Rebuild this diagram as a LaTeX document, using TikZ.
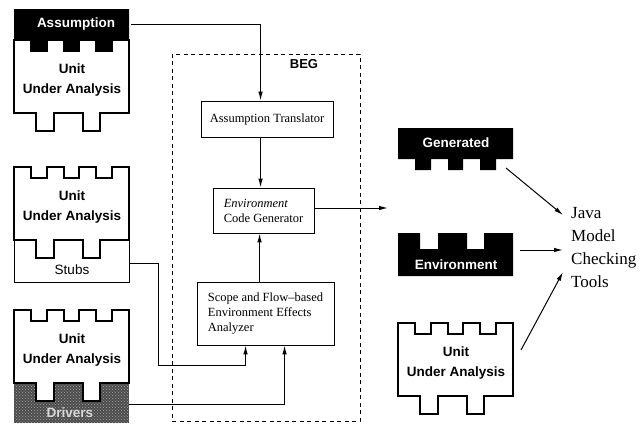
\documentclass[tikz,border=0pt]{standalone}
\usepackage{fontspec}
\setmainfont{Liberation Serif}
\setsansfont{Liberation Sans}
\usetikzlibrary{arrows.meta,patterns}
\tikzset{
  piece/.style={draw=black, fill=white, line width=1.1pt, line join=miter},
  lbl/.style={font=\sffamily\bfseries\fontsize{13.5}{19.5}\selectfont, align=center, inner sep=0pt},
  wlbl/.style={lbl, text=white},
  boxtxt/.style={draw=black, line width=0.9pt, fill=white, font=\fontsize{12.5}{15}\selectfont},
  arr/.style={line width=1pt, -{Latex[length=9pt,width=4.5pt]}},
  uua/.pic={\path[piece] (0,0) -- (17,0) -- (17,11) -- (33,11) -- (33,0) -- (50,0) -- (50,11) -- (65,11) -- (65,0) -- (82,0) -- (82,11) -- (98,11) -- (98,0) -- (115,0) -- (115,73) -- (86,73) -- (86,91) -- (69,91) -- (69,73) -- (40,73) -- (40,91) -- (22,91) -- (22,73) -- (0,73) -- cycle;},
  topblk/.pic={\fill[black] (0,0) -- (115,0) -- (115,31) -- (98,31) -- (98,42) -- (82,42) -- (82,31) -- (65,31) -- (65,42) -- (50,42) -- (50,31) -- (33,31) -- (33,42) -- (17,42) -- (17,31) -- (0,31) -- cycle;},
  botblk/.pic={\fill[black] (0,0) -- (22,0) -- (22,16) -- (40,16) -- (40,0) -- (69,0) -- (69,16) -- (86,16) -- (86,0) -- (115,0) -- (115,43) -- (0,43) -- cycle;}
}
\begin{document}
\begin{tikzpicture}[x=1pt,y=-1pt]
\useasboundingbox (0,0) rectangle (642,424);
\fill[white] (0,0) rectangle (642,424);

% Block A: Assumption + UUA
\pic at (14,40) {uua};
\pic at (14,9) {topblk};
\node[wlbl] (asm) at (76,24) {Assumption};
\node[lbl] (uuaA) at (72,80) {Unit\\Under Analysis};

% Block B: UUA + Stubs
\draw[line width=1pt, fill=white] (14,240) rectangle (129,282);
\pic at (14,167) {uua};
\node[lbl] (uuaB) at (72,207) {Unit\\Under Analysis};
\node[lbl, font=\sffamily\fontsize{13.5}{16}\selectfont] (stubs) at (72,270) {Stubs};

% Block C: UUA + Drivers
\fill[black!70] (14,382) rectangle (129,423);
\fill[pattern=crosshatch dots, pattern color=black!35] (14,382) rectangle (129,423);
\pic at (14,310) {uua};
\node[lbl] (uuaC) at (72,350) {Unit\\Under Analysis};
\node[wlbl, text=white!85!black] (drivers) at (70,413) {Drivers};

% Right column
\pic at (398,128) {topblk};
\node[wlbl] (gen) at (456,143) {Generated};
\pic at (398,233) {botblk};
\node[wlbl] (env) at (456,265) {Environment};
\pic at (398,323) {uua};
\node[lbl] (uuaD) at (456,363) {Unit\\Under Analysis};

% BEG
\node[draw, dash pattern=on 4pt off 3.5pt, line width=1pt, minimum width=188, minimum height=367, inner sep=0pt] (beg) at (266,237.5) {};
\node[lbl, font=\sffamily\bfseries\fontsize{13}{15}\selectfont] (begl) at (304,64) {BEG};

\node[boxtxt, minimum width=132, minimum height=36] (at) at (267,119) {Assumption Translator};
\node[boxtxt, minimum width=101, minimum height=45, align=left] (ecg) at (263.5,210.5) {\textit{Environment}\\Code Generator};
\node[boxtxt, minimum width=137, minimum height=63, align=left] (scope) at (265.5,313.5) {Scope and Flow–based\\Environment Effects\\Analyzer};

\node[font=\fontsize{17}{23}\selectfont, align=left, anchor=west, inner sep=0pt] (java) at (571,248) {Java\\Model\\Checking\\Tools};

% coordinates
\coordinate (asmR) at (131,24);
\coordinate (ecgout) at (388,208);
\coordinate (stubsR) at (129,263);
\coordinate (stubsJ) at (158,365);
\coordinate (drvR) at (129,404);
\coordinate (genR) at (506,168);
\coordinate (envR) at (520,250);
\coordinate (uuaR) at (521,350);
\coordinate (j1) at (563,215);
\coordinate (j2) at (563,250);
\coordinate (j3) at (563,272);

% connectors
\draw[arr] (asmR) -| ([xshift=60pt]at.north west);
\draw[arr] ([xshift=60pt]at.south west) -- ([xshift=48pt]ecg.north west);
\draw[arr] ([xshift=63pt]scope.north west) -- ([xshift=47pt]ecg.south west);
\draw[arr] (ecg.east |- ecgout) -- (ecgout);
\draw[arr] (stubsR) -| (stubsJ) -| ([xshift=49pt]scope.south west);
\draw[arr] (drvR) -| ([xshift=88pt]scope.south west);
\draw[arr] (genR) -- (j1);
\draw[arr] (envR) -- (j2);
\draw[arr] (uuaR) -- (j3);
\end{tikzpicture}
\end{document}
